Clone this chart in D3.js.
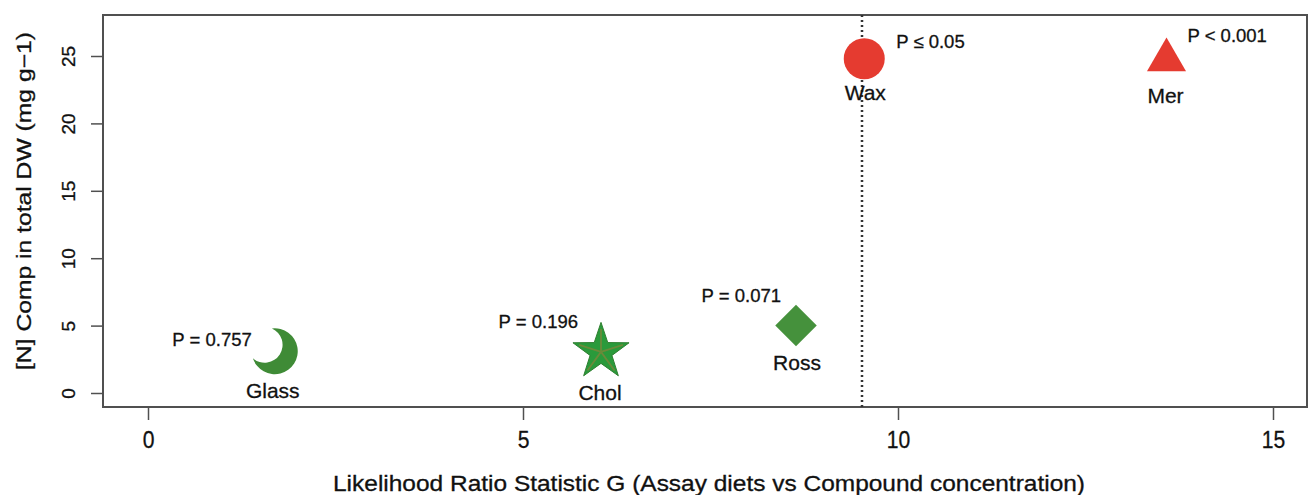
<!DOCTYPE html>
<html>
<head>
<meta charset="utf-8">
<script src="https://cdn.jsdelivr.net/npm/d3@7"></script>
<style>
  html, body { margin: 0; padding: 0; background: #fff; }
  svg { display: block; font-family: "Liberation Sans", Arial, sans-serif; }
  text { stroke: #111; stroke-width: 0.3px; }
</style>
</head>
<body>
<svg id="chart" width="1309" height="495"></svg>
<script>
// ---- data ----
const names    = ["Glass", "Chol", "Ross", "Wax", "Mer"];
const gStat    = [1.69, 6.04, 8.64, 9.55, 13.58];
const compConc = [3.1, 3.05, 5.0, 24.8, 24.7];
const pLabels  = ["P = 0.757", "P = 0.196", "P = 0.071", "P \u2264 0.05", "P < 0.001"];
const shapes   = ["crescent", "star", "diamond", "circle", "triangle"];
const cutoffG  = 9.52;
const xTicks   = [0, 5, 10, 15];
const yTicks   = [0, 5, 10, 15, 20, 25];
const xTitle   = "Likelihood Ratio Statistic G (Assay diets vs Compound concentration)";
const yTitle   = "[N] Comp in total DW (mg g\u22121)";

// ---- styles / layout ----
const colors = { crescent: "#3f8b36", star: "#2a9a3b", diamond: "#45913c", circle: "#e53b30", triangle: "#e53b30" };
// label offsets (pixels) relative to the marker: [pdx, pdy, anchor, ndx, ndy]
const labelOffsets = [
  [-23, -5, "end", -2, 47],
  [-23, -24, "end", -1, 48],
  [-15, -23.5, "end", 1, 44.5],
  [32, -11, "start", 1, 41.5],
  [21, -18.3, "start", -1, 42.5]
];

const box = { left: 103, right: 1307, top: 15, bottom: 407 };
const svg = d3.select("#chart");

const x = d3.scaleLinear().domain([0, 15]).range([148, 1273]);
const y = d3.scaleLinear().domain([0, 25]).range([393, 56]);

const axisColor = "#505050";
const fontFam = "Liberation Sans, Arial, sans-serif";

// x axis
const xAxis = svg.append("g")
  .attr("transform", `translate(0,${box.bottom})`)
  .call(d3.axisBottom(x).tickValues(xTicks).tickSize(13).tickFormat(d3.format("d")));
xAxis.select(".domain").remove();
xAxis.selectAll("line").attr("stroke", axisColor).attr("stroke-width", 1.5);
xAxis.selectAll("text")
  .attr("font-size", 24).attr("fill", "#111").attr("font-family", fontFam)
  .attr("y", null).attr("dy", null)
  .attr("transform", "translate(0,41) scale(0.88,1)");

// y axis
const yAxis = svg.append("g")
  .attr("transform", `translate(${box.left},0)`)
  .call(d3.axisLeft(y).tickValues(yTicks).tickSize(12).tickFormat(d3.format("d")));
yAxis.select(".domain").remove();
yAxis.selectAll("line").attr("stroke", axisColor).attr("stroke-width", 1.5);
yAxis.selectAll("text")
  .attr("font-size", 19).attr("fill", "#111").attr("font-family", fontFam)
  .attr("text-anchor", "middle").attr("x", null).attr("dy", null)
  .attr("transform", "translate(-28,0) rotate(-90)");

// box
svg.append("rect")
  .attr("x", box.left).attr("y", box.top)
  .attr("width", box.right - box.left).attr("height", box.bottom - box.top)
  .attr("fill", "none").attr("stroke", axisColor).attr("stroke-width", 2);

// axis titles
svg.append("text")
  .attr("x", 709).attr("y", 491)
  .attr("text-anchor", "middle").attr("font-size", 21.5).attr("fill", "#111")
  .attr("textLength", 752).attr("lengthAdjust", "spacingAndGlyphs")
  .text(xTitle);
svg.append("text")
  .attr("transform", "translate(31,201) rotate(-90)")
  .attr("text-anchor", "middle").attr("font-size", 20).attr("fill", "#111")
  .attr("textLength", 338).attr("lengthAdjust", "spacingAndGlyphs")
  .text(yTitle);

// cutoff dotted line
svg.append("line")
  .attr("x1", x(cutoffG)).attr("x2", x(cutoffG))
  .attr("y1", box.top).attr("y2", box.bottom)
  .attr("stroke", "#333").attr("stroke-width", 2.5)
  .attr("stroke-dasharray", "2,3");

// marker shapes
function crescentPath(R) {
  const dx = -0.44 * R, dy = -0.28 * R, r = 0.78 * R;
  const d = Math.hypot(dx, dy);
  const a = (R * R - r * r + d * d) / (2 * d);
  const h = Math.sqrt(R * R - a * a);
  const ux = dx / d, uy = dy / d;
  const p1 = [a * ux - h * uy, a * uy + h * ux];
  const p2 = [a * ux + h * uy, a * uy - h * ux];
  return `M${p1[0]},${p1[1]} A${R},${R} 0 1 1 ${p2[0]},${p2[1]} A${r},${r} 0 1 0 ${p1[0]},${p1[1]} Z`;
}
function starPoints(R, ri) {
  const pts = [];
  for (let i = 0; i < 10; i++) {
    const ang = -Math.PI / 2 + i * Math.PI / 5;
    const rr = i % 2 === 0 ? R : ri;
    pts.push([rr * Math.cos(ang), rr * Math.sin(ang)]);
  }
  return pts;
}

const marks = svg.append("g");
names.forEach((n, i) => {
  const cx = x(gStat[i]), cy = y(compConc[i]);
  const g = marks.append("g").attr("transform", `translate(${cx},${cy})`);
  const s = shapes[i], c = colors[s];
  if (s === "circle") {
    g.append("circle").attr("r", 20.5).attr("fill", c);
  } else if (s === "triangle") {
    g.append("path").attr("d", d3.symbol(d3.symbolTriangle, 660)()).attr("fill", c);
  } else if (s === "diamond") {
    g.append("path").attr("d", d3.symbol(d3.symbolSquare, 860)()).attr("fill", c).attr("transform", "rotate(45)");
  } else if (s === "crescent") {
    g.append("path").attr("d", crescentPath(23)).attr("fill", c);
  } else if (s === "star") {
    const pts = starPoints(29.5, 11.5);
    g.append("path").attr("d", "M" + pts.map(p => p.join(",")).join("L") + "Z")
      .attr("fill", c).attr("stroke", "#2f7f30").attr("stroke-width", 1);
    pts.filter((p, k) => k % 2 === 0).forEach(p => {
      g.append("line").attr("x1", 0).attr("y1", 0).attr("x2", p[0] * 0.78).attr("y2", p[1] * 0.78)
        .attr("stroke", "#6b8a3a").attr("stroke-width", 1.8);
    });
  }
  const o = labelOffsets[i];
  svg.append("text")
    .attr("x", cx + o[0]).attr("y", cy + o[1])
    .attr("text-anchor", o[2]).attr("font-size", 18.5).attr("fill", "#111")
    .text(pLabels[i]);
  svg.append("text")
    .attr("x", cx + o[3]).attr("y", cy + o[4])
    .attr("text-anchor", "middle").attr("font-size", 21).attr("fill", "#111")
    .text(n);
});
</script>
</body>
</html>
